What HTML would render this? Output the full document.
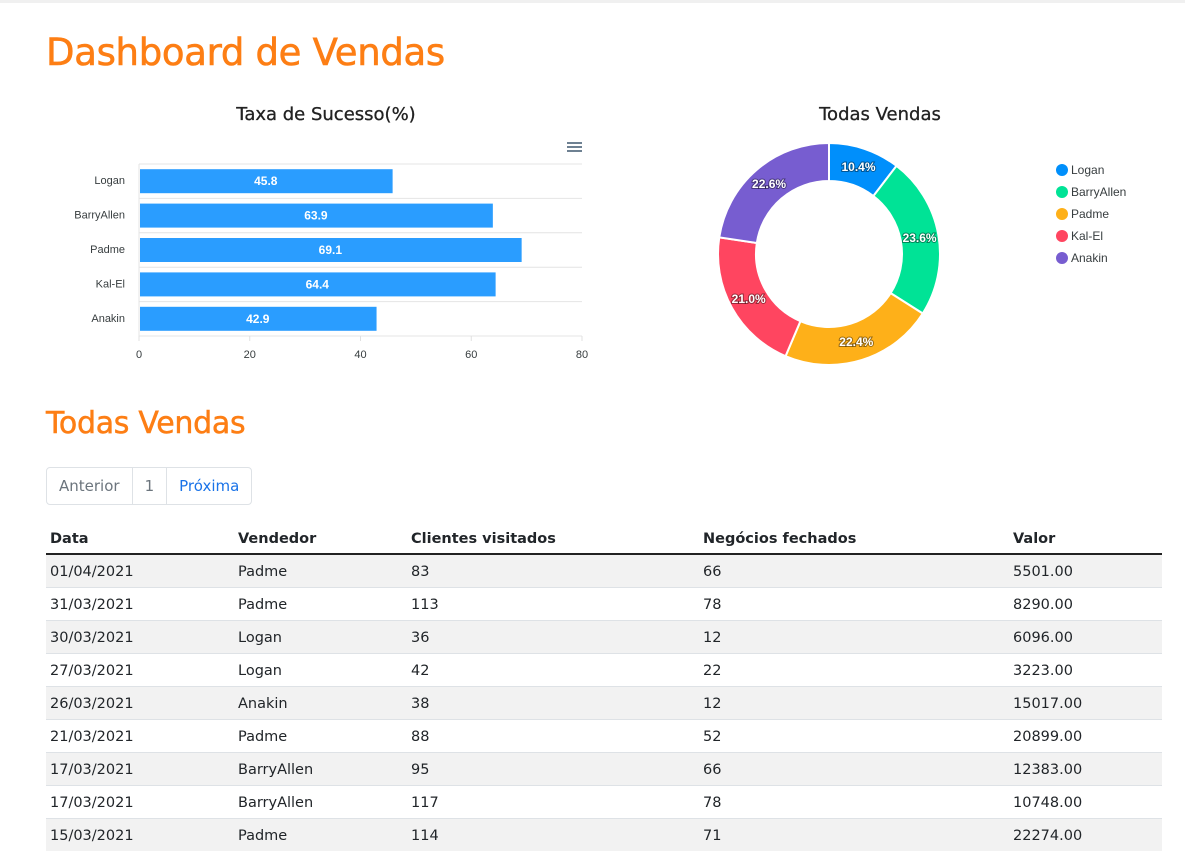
<!DOCTYPE html>
<html><head><meta charset="utf-8">
<style>
body{margin:0;width:1185px;height:847px;overflow:hidden;background:#fff;font-family:"Liberation Sans","DejaVu Sans",sans-serif;position:relative}
.topbar{position:absolute;left:0;top:0;width:1185px;height:3px;background:#f0f0f0}
h1,h2{position:absolute;margin:0;color:#fd7e14;font-weight:normal;font-family:"DejaVu Sans","Liberation Sans",sans-serif}
h1{left:46px;top:31px;font-size:37px;letter-spacing:-0.3px;-webkit-text-stroke:0.6px #fd7e14}
h2{left:46px;top:406px;font-size:30px;letter-spacing:-0.3px;-webkit-text-stroke:0.5px #fd7e14}
svg{position:absolute;left:0;top:0}
.pag{position:absolute;left:46px;top:467px;height:36px;display:flex;border:1px solid #dee2e6;border-radius:4px;font-size:15px;font-family:"DejaVu Sans",sans-serif}
.pag div{padding:0 12px;line-height:36px;border-left:1px solid #dee2e6;color:#6c757d}
.pag div:first-child{border-left:none}
table{position:absolute;left:46px;top:524px;width:1116px;border-collapse:collapse;font-family:"DejaVu Sans","Liberation Sans",sans-serif;font-size:14.5px;color:#212529}
th{text-align:left;font-weight:bold;height:29px;padding:0 4px;border-bottom:2px solid #222;vertical-align:middle}
td{height:33px;box-sizing:border-box;padding:8px 4px 0;vertical-align:top;line-height:18px;border-top:1px solid #dee2e6}
tbody tr:nth-child(odd){background:#f2f2f2}
</style></head><body>
<div class="topbar"></div>
<h1>Dashboard de Vendas</h1>
<svg id="charts" width="1185" height="400"></svg>
<h2>Todas Vendas</h2>
<div class="pag">
<div>Anterior</div>
<div style="color:#6c757d">1</div>
<div style="color:#1a73e8">Próxima</div>
</div>
<table>
<colgroup><col style="width:188px"><col style="width:173px"><col style="width:292px"><col style="width:310px"><col></colgroup>
<thead><tr><th>Data</th><th>Vendedor</th><th>Clientes visitados</th><th>Negócios fechados</th><th>Valor</th></tr></thead>
<tbody>
<tr><td>01/04/2021</td><td>Padme</td><td>83</td><td>66</td><td>5501.00</td></tr>
<tr><td>31/03/2021</td><td>Padme</td><td>113</td><td>78</td><td>8290.00</td></tr>
<tr><td>30/03/2021</td><td>Logan</td><td>36</td><td>12</td><td>6096.00</td></tr>
<tr><td>27/03/2021</td><td>Logan</td><td>42</td><td>22</td><td>3223.00</td></tr>
<tr><td>26/03/2021</td><td>Anakin</td><td>38</td><td>12</td><td>15017.00</td></tr>
<tr><td>21/03/2021</td><td>Padme</td><td>88</td><td>52</td><td>20899.00</td></tr>
<tr><td>17/03/2021</td><td>BarryAllen</td><td>95</td><td>66</td><td>12383.00</td></tr>
<tr><td>17/03/2021</td><td>BarryAllen</td><td>117</td><td>78</td><td>10748.00</td></tr>
<tr><td>15/03/2021</td><td>Padme</td><td>114</td><td>71</td><td>22274.00</td></tr>
</tbody></table>
<script>
const barCategories=["Logan","BarryAllen","Padme","Kal-El","Anakin"];
const barValues=[45.8,63.9,69.1,64.4,42.9];
const xTicks=[0,20,40,60,80];
const pieLabels=["Logan","BarryAllen","Padme","Kal-El","Anakin"];
const pieValues=[10.4,23.6,22.4,21.0,22.6];
const pieColors=["#008ffb","#00e396","#feb019","#ff4560","#775dd0"];

const svg=document.getElementById('charts');
const NS='http://www.w3.org/2000/svg';
function mk(t,a,txt){const e=document.createElementNS(NS,t);for(const k in a)e.setAttribute(k,a[k]);if(txt!==undefined)e.textContent=txt;svg.appendChild(e);return e;}

const x0=139,x1=582,yTop=164,band=34.4;
const xs=v=>x0+(v-xTicks[0])/(xTicks[xTicks.length-1]-xTicks[0])*(x1-x0);
let t=mk('text',{x:326,y:120,'text-anchor':'middle','font-size':18,fill:'#222','font-family':'DejaVu Sans, sans-serif',stroke:'#222','stroke-width':0.3},'Taxa de Sucesso(%)');


for(let i=0;i<=barCategories.length;i++){
  const g=mk('line',{x1:x0,x2:x1,y1:yTop+i*band,y2:yTop+i*band,stroke:'#e4e4e4'});
  
  
}
mk('line',{x1:x0,x2:x0,y1:yTop,y2:yTop+band*barCategories.length,stroke:'#e4e4e4'});
xTicks.forEach(v=>{
  const l=mk('text',{x:xs(v),y:358,'text-anchor':'middle','font-size':11,fill:'#373d3f'},v);
  
  
  mk('line',{x1:xs(v),x2:xs(v),y1:yTop+band*5,y2:yTop+band*5+5,stroke:'#e0e0e0'});
});
barCategories.forEach((c,i)=>{
  const cy=yTop+i*band+band/2;
  const r=mk('rect',{x:x0+1,y:cy-12,width:xs(barValues[i])-x0-1,height:24,fill:'#2a9dff'});
  
  
  const lb=mk('text',{x:(x0+xs(barValues[i]))/2,y:cy+4,'text-anchor':'middle','font-size':12,'font-weight':'bold',fill:'#fff'},barValues[i].toFixed(1));
  
  
  const yl=mk('text',{x:125,y:cy+3,'text-anchor':'end','font-size':11,fill:'#373d3f'},c);
  
  
});
[0,4,8].forEach(d=>mk('line',{x1:567,x2:582,y1:143+d,y2:143+d,stroke:'#6e8192','stroke-width':2}));

t=mk('text',{x:880,y:120,'text-anchor':'middle','font-size':18,fill:'#222','font-family':'DejaVu Sans, sans-serif',stroke:'#222','stroke-width':0.3},'Todas Vendas');


const cx=829,cy=254,R=111,r=73;
const total=pieValues.reduce((a,b)=>a+b,0);
let ang=-Math.PI/2;
const pt=(rad,a)=>[cx+rad*Math.cos(a),cy+rad*Math.sin(a)];
pieValues.forEach((v,i)=>{
  const a2=ang+v/total*2*Math.PI;
  const large=(a2-ang)>Math.PI?1:0;
  const [ax,ay]=pt(R,ang),[bx,by]=pt(R,a2),[cx2,cy2]=pt(r,a2),[dx,dy]=pt(r,ang);
  const p=mk('path',{d:`M${ax},${ay}A${R},${R} 0 ${large} 1 ${bx},${by}L${cx2},${cy2}A${r},${r} 0 ${large} 0 ${dx},${dy}Z`,fill:pieColors[i],stroke:'#fff','stroke-width':2});
  
  
  const m=(ang+a2)/2;const [lx,ly]=pt((R+r)/2,m);
  const lt=mk('text',{x:lx,y:ly+4,'text-anchor':'middle','font-size':12,'font-weight':'bold',fill:'#fff',style:'paint-order:stroke',stroke:'rgba(0,0,0,0.4)','stroke-width':2},(v/total*100).toFixed(1)+'%');
  
  
  ang=a2;
});
pieLabels.forEach((l,i)=>{
  const y=170+i*22;
  const c=mk('circle',{cx:1062,cy:y,r:6,fill:pieColors[i]});
  
  
  const lt=mk('text',{x:1071,y:y+4,'font-size':12,fill:'#373d3f'},l);
  
  
});
</script>
</body></html>
